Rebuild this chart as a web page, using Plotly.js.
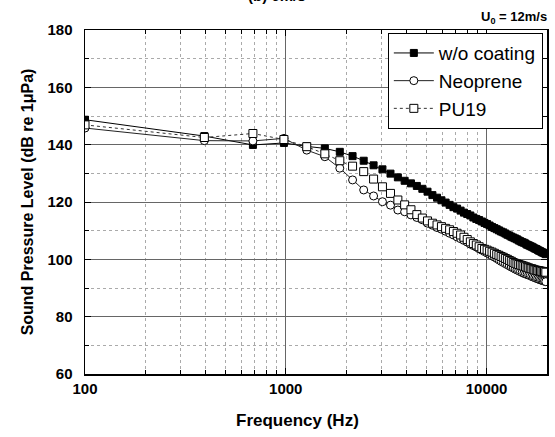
<!DOCTYPE html>
<html>
<head>
<meta charset="utf-8">
<script src="https://cdn.plot.ly/plotly-3.0.1.min.js"></script>
<style>
  html, body { margin: 0; padding: 0; background: #fff; }
  #chart { width: 555px; height: 437px; }
</style>
</head>
<body>
<div id="chart"></div>
<script>
// Narrowband frequencies (Hz)
const freq = [
  100, 393, 686, 979, 1272, 1565, 1858, 2151, 2444, 2737,
  3030, 3323, 3616, 3909, 4202, 4495, 4788, 5081, 5374, 5667,
  5960, 6253, 6546, 6839, 7132, 7425, 7718, 8011, 8304, 8597,
  8890, 9183, 9476, 9769, 10062, 10355, 10648, 10941, 11234, 11527,
  11820, 12113, 12406, 12699, 12992, 13285, 13578, 13871, 14164, 14457,
  14750, 15043, 15336, 15629, 15922, 16215, 16508, 16801, 17094, 17387,
  17680, 17973, 18266, 18559, 18852, 19145, 19438, 19731
];

// Sound pressure level, dB re 1 uPa
const splBare = [
  148.7, 143.0, 139.9, 140.6, 139.4, 138.7, 137.5, 136.0, 134.4, 132.8,
  131.4, 129.9, 128.6, 127.4, 126.5, 125.6, 124.6, 123.6, 122.4, 121.5,
  120.6, 119.8, 119.0, 118.2, 117.7, 117.0, 116.3, 115.8, 115.3, 114.6,
  114.1, 113.7, 113.2, 112.7, 112.3, 111.8, 111.3, 110.9, 110.5, 110.1,
  109.7, 109.4, 109.0, 108.6, 108.3, 107.9, 107.6, 107.3, 107.0, 106.6,
  106.3, 106.0, 105.8, 105.5, 105.1, 104.9, 104.6, 104.4, 104.1, 103.8,
  103.6, 103.3, 103.0, 102.8, 102.5, 102.3, 102.1, 101.8
];
const splNeoprene = [
  145.8, 141.4, 141.3, 142.2, 138.1, 135.8, 131.8, 127.7, 124.2, 122.1,
  120.1, 118.9, 117.2, 116.6, 115.5, 114.6, 113.8, 112.6, 111.9, 111.1,
  110.5, 109.8, 109.1, 108.5, 107.8, 107.2, 106.6, 106.0, 105.3, 104.8,
  104.3, 103.7, 103.2, 102.7, 102.2, 101.7, 101.2, 100.8, 100.3, 99.8,
  99.3, 98.9, 98.5, 98.1, 97.7, 97.3, 97.0, 96.6, 96.3, 96.0,
  95.7, 95.4, 95.1, 94.9, 94.7, 94.5, 94.3, 94.0, 93.8, 93.6,
  93.4, 93.2, 93.0, 92.8, 92.7, 92.5, 92.4, 92.2
];
const splPU19 = [
  146.9, 142.5, 143.9, 141.8, 139.3, 136.8, 134.4, 132.5, 130.6, 128.0,
  125.3, 123.0, 120.7, 119.0, 117.3, 115.6, 114.4, 113.4, 112.6, 112.0,
  111.4, 110.8, 110.3, 109.7, 109.1, 108.5, 107.7, 106.9, 106.1, 105.5,
  105.0, 104.4, 103.8, 103.5, 103.2, 102.8, 102.5, 102.1, 101.7, 101.4,
  101.0, 100.7, 100.3, 100.0, 99.6, 99.3, 98.9, 98.6, 98.4, 98.2,
  98.0, 97.8, 97.6, 97.4, 97.2, 97.0, 96.8, 96.7, 96.5, 96.3,
  96.2, 96.1, 96.0, 95.9, 95.8, 95.7, 95.7, 95.5
];

const seriesNames = ['w/o coating', 'Neoprene', 'PU19'];
const xTickVals = [100, 1000, 10000];
const xTickText = ['100', '1000', '10000'];

const FONT = 'Liberation Sans, Arial, sans-serif';

const traces = [
  {
    x: freq, y: splBare, name: seriesNames[0], type: 'scatter', mode: 'lines+markers',
    line: { color: '#000', width: 1 },
    marker: { symbol: 'square', size: 7, color: '#000', line: { color: '#000', width: 1 } }
  },
  {
    x: freq, y: splNeoprene, name: seriesNames[1], type: 'scatter', mode: 'lines+markers',
    line: { color: '#222', width: 1 },
    marker: { symbol: 'circle', size: 8, color: '#fff', line: { color: '#000', width: 1 } }
  },
  {
    x: freq, y: splPU19, name: seriesNames[2], type: 'scatter', mode: 'lines+markers',
    line: { color: '#333', width: 1, dash: 'dot' },
    marker: { symbol: 'square', size: 8, color: '#fff', line: { color: '#000', width: 1 } }
  }
];

const layout = {
  width: 555, height: 437,
  margin: { l: 85, r: 8, t: 30, b: 63 },
  paper_bgcolor: '#fff', plot_bgcolor: '#fff',
  font: { family: FONT, color: '#000', size: 15 },
  showlegend: true,
  legend: {
    x: 0.991, y: 0.991, xanchor: 'right', yanchor: 'top',
    bgcolor: '#fff', bordercolor: '#000', borderwidth: 1,
    font: { family: FONT, size: 19, color: '#000' },
    itemwidth: 40,
    tracegroupgap: 0
  },
  xaxis: {
    type: 'log', range: [2, Math.log10(20000)],
    tickvals: xTickVals, ticktext: xTickText,
    tickfont: { family: FONT, size: 15, weight: 'bold' },
    ticks: 'inside', ticklen: 6, tickwidth: 1, tickcolor: '#000',
    showline: true, linecolor: '#000', linewidth: 1.5, mirror: 'ticks',
    showgrid: true, gridcolor: '#666', gridwidth: 1,
    minor: { dtick: 'D1', ticks: 'inside', ticklen: 4, tickcolor: '#000',
             showgrid: true, gridcolor: '#aaa', griddash: 'dot', gridwidth: 1 },
    zeroline: false
  },
  yaxis: {
    range: [60, 180], dtick: 20,
    tickfont: { family: FONT, size: 15, weight: 'bold' },
    ticks: 'inside', ticklen: 6, tickwidth: 1, tickcolor: '#000',
    ticklabelstandoff: 8,
    showline: true, linecolor: '#000', linewidth: 1.5, mirror: 'ticks',
    showgrid: true, gridcolor: '#666', gridwidth: 1,
    minor: { dtick: 10, ticks: 'inside', ticklen: 4, tickcolor: '#000',
             showgrid: true, gridcolor: '#aaa', griddash: 'dot', gridwidth: 1 },
    zeroline: false,
    title: { text: 'Sound Pressure Level (dB re 1μPa)', font: { family: FONT, size: 16, weight: 'bold' }, standoff: 10 }
  },
  annotations: [
    {
      // axis title for frequency, placed slightly left of the plot centre
      xref: 'paper', yref: 'paper', x: 0.459, y: -0.134, xanchor: 'center', yanchor: 'middle',
      text: 'Frequency (Hz)', showarrow: false,
      font: { family: FONT, size: 17, weight: 'bold' }
    },
    {
      xref: 'paper', yref: 'paper', x: 0.4156, y: 1.07, xanchor: 'center', yanchor: 'bottom',
      text: '(b) 6m/s', showarrow: false,
      font: { family: FONT, size: 15, weight: 'bold' }
    },
    {
      xref: 'paper', yref: 'paper', x: 1.005, y: 1.005, xanchor: 'right', yanchor: 'bottom',
      text: 'U<sub>0</sub> = 12m/s', showarrow: false,
      font: { family: FONT, size: 13, weight: 'bold' }
    }
  ]
};

Plotly.newPlot('chart', traces, layout, { displayModeBar: false, staticPlot: true });
</script>
</body>
</html>
